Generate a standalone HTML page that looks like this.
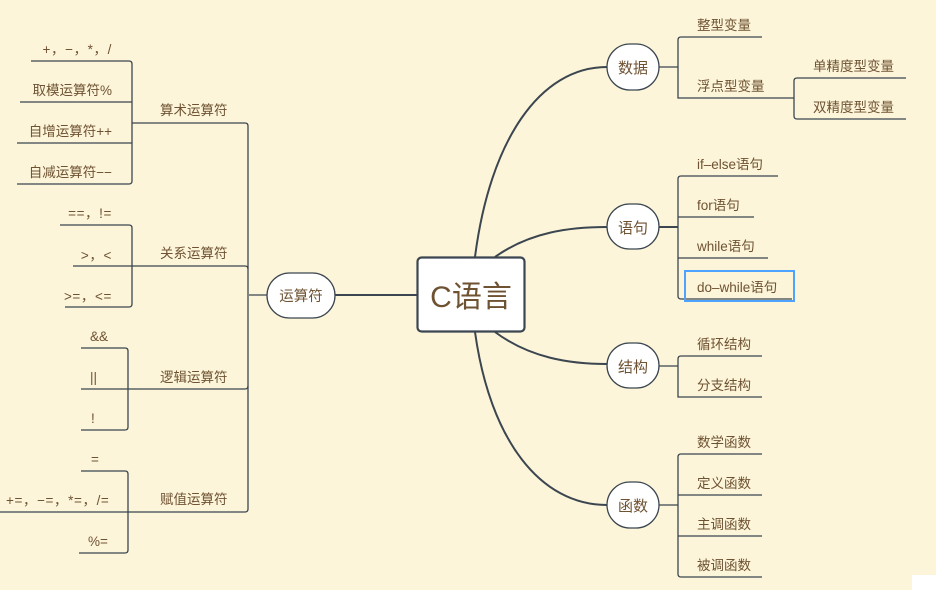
<!DOCTYPE html>
<html><head><meta charset="utf-8"><style>
html,body{margin:0;padding:0;background:#fdf5d9;width:936px;height:590px;overflow:hidden}
svg{display:block}
text{font-family:"Liberation Sans","Noto Sans CJK SC",sans-serif;fill:#6e5232;font-size:13.5px}
.op{letter-spacing:0.6px}
</style></head><body>
<svg width="936" height="590" viewBox="0 0 936 590" xmlns="http://www.w3.org/2000/svg">
<rect width="936" height="590" fill="#fdf5d9"/>
<rect x="912" y="575" width="24" height="15" fill="#fff"/>
<g fill="none" stroke="#3b4650" stroke-width="1.3">
<path d="M475 257 C490 140 540 67 607 67" stroke-width="2"/>
<path d="M495 257 C530 232 570 227 607 227" stroke-width="2"/>
<path d="M495 332 C530 358 570 364 607 364" stroke-width="2"/>
<path d="M475 332 C490 440 540 505 607 505" stroke-width="2"/>
<line x1="335" y1="295" x2="417" y2="295" stroke-width="2"/>
<line x1="659" y1="67" x2="678" y2="67"/>
<path d="M762 37 H681 Q678 37 678 40 V98 H794"/>
<path d="M906 78 H797 Q794 78 794 81 V116 Q794 119 797 119 H906"/>
<line x1="659" y1="227" x2="678" y2="227" stroke-width="2"/>
<path d="M778 176 H681 Q678 176 678 179 V296 Q678 299 681 299 H792"/>
<line x1="678" y1="217" x2="754" y2="217"/>
<line x1="678" y1="258" x2="768" y2="258"/>
<line x1="659" y1="366" x2="678" y2="366"/>
<path d="M762 356 H681 Q678 356 678 359 V397 H762"/>
<line x1="659" y1="505" x2="678" y2="505"/>
<path d="M762 454 H681 Q678 454 678 457 V574 Q678 577 681 577 H762"/>
<line x1="678" y1="495" x2="762" y2="495"/>
<line x1="678" y1="536" x2="762" y2="536"/>
<line x1="249" y1="295" x2="267" y2="295"/>
<path d="M132 123 H245 Q248 123 248 126 V509 Q248 512 245 512 H0"/>
<line x1="73" y1="266" x2="245" y2="266"/>
<path d="M81 389 H245 Q248 389 248 386"/>
<path d="M245 266 Q248 266 248 269"/>
<path d="M31 61 H129 Q132 61 132 64 V181 Q132 184 129 184 H17"/>
<line x1="20" y1="102" x2="132" y2="102"/>
<line x1="17" y1="143" x2="132" y2="143"/>
<path d="M60 225 H129 Q132 225 132 228 V304 Q132 307 129 307 H65"/>
<path d="M81 348 H125 Q128 348 128 351 V427 Q128 430 125 430 H81"/>
<path d="M81 471 H125 Q128 471 128 474 V550 Q128 553 125 553 H79"/>
</g>
<rect x="417.5" y="257.5" width="107" height="74" rx="4" fill="#fff" stroke="#3b4650" stroke-width="2.2"/>
<text x="471" y="307" text-anchor="middle" style="font-size:30px">C语言</text>
<g fill="#fff" stroke="#3b4650" stroke-width="1.3">
<rect x="267" y="273" width="68" height="45" rx="22.5"/>
<rect x="607" y="44" width="52" height="46" rx="23"/>
<rect x="607" y="204" width="52" height="45" rx="22.5"/>
<rect x="607" y="343" width="52" height="45" rx="22.5"/>
<rect x="607" y="482" width="52" height="46" rx="23"/>
</g>
<rect x="685" y="271" width="109" height="30" fill="none" stroke="#4da3ff" stroke-width="2"/>
<text x="301" y="301" text-anchor="middle" style="font-size:14.5px">运算符</text>
<text x="633" y="73" text-anchor="middle" style="font-size:15px">数据</text>
<text x="633" y="233" text-anchor="middle" style="font-size:15px">语句</text>
<text x="633" y="372" text-anchor="middle" style="font-size:15px">结构</text>
<text x="633" y="511" text-anchor="middle" style="font-size:15px">函数</text>
<text x="697" y="30">整型变量</text>
<text x="697" y="91">浮点型变量</text>
<text x="813" y="71">单精度型变量</text>
<text x="813" y="112">双精度型变量</text>
<text x="697" y="169">if–else语句</text>
<text x="697" y="210">for语句</text>
<text x="697" y="251">while语句</text>
<text x="697" y="292">do–while语句</text>
<text x="697" y="349">循环结构</text>
<text x="697" y="390">分支结构</text>
<text x="697" y="447">数学函数</text>
<text x="697" y="488">定义函数</text>
<text x="697" y="529">主调函数</text>
<text x="697" y="570">被调函数</text>
<text x="160" y="115">算术运算符</text>
<text x="160" y="258">关系运算符</text>
<text x="160" y="382">逻辑运算符</text>
<text x="160" y="504">赋值运算符</text>
<text class="op" x="112" y="54" text-anchor="end">+，−，*，/</text>
<text x="112" y="95" text-anchor="end">取模运算符%</text>
<text x="112" y="136" text-anchor="end">自增运算符++</text>
<text x="112" y="177" text-anchor="end">自减运算符−−</text>
<text class="op" x="112" y="218" text-anchor="end">==，!=</text>
<text class="op" x="112" y="260" text-anchor="end">&gt;，&lt;</text>
<text class="op" x="112" y="301" text-anchor="end">&gt;=，&lt;=</text>
<text x="90" y="341">&amp;&amp;</text>
<text x="90" y="382">||</text>
<text x="91" y="423">!</text>
<text x="91" y="464">=</text>
<text class="op" x="6" y="505">+=，−=，*=，/=</text>
<text x="88" y="546">%=</text>
</svg>
</body></html>
